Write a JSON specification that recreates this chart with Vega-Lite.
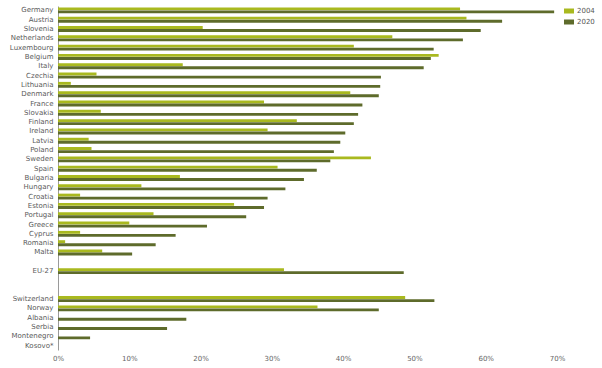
{
  "$schema": "https://vega.github.io/schema/vega-lite/v6.json",
  "autosize": {"type": "none"},
  "padding": {"left": 58, "top": 6, "right": 45, "bottom": 18},
  "width": 499,
  "height": 344,
  "background": "white",
  "data": {
    "values": [
      {"country": "Germany", "year": "2004", "value": 0.564},
      {"country": "Germany", "year": "2020", "value": 0.696},
      {"country": "Austria", "year": "2004", "value": 0.573},
      {"country": "Austria", "year": "2020", "value": 0.623},
      {"country": "Slovenia", "year": "2004", "value": 0.203},
      {"country": "Slovenia", "year": "2020", "value": 0.593},
      {"country": "Netherlands", "year": "2004", "value": 0.469},
      {"country": "Netherlands", "year": "2020", "value": 0.568},
      {"country": "Luxembourg", "year": "2004", "value": 0.415},
      {"country": "Luxembourg", "year": "2020", "value": 0.527},
      {"country": "Belgium", "year": "2004", "value": 0.534},
      {"country": "Belgium", "year": "2020", "value": 0.523},
      {"country": "Italy", "year": "2004", "value": 0.175},
      {"country": "Italy", "year": "2020", "value": 0.513},
      {"country": "Czechia", "year": "2004", "value": 0.054},
      {"country": "Czechia", "year": "2020", "value": 0.453},
      {"country": "Lithuania", "year": "2004", "value": 0.018},
      {"country": "Lithuania", "year": "2020", "value": 0.452},
      {"country": "Denmark", "year": "2004", "value": 0.410},
      {"country": "Denmark", "year": "2020", "value": 0.450},
      {"country": "France", "year": "2004", "value": 0.289},
      {"country": "France", "year": "2020", "value": 0.427},
      {"country": "Slovakia", "year": "2004", "value": 0.060},
      {"country": "Slovakia", "year": "2020", "value": 0.421},
      {"country": "Finland", "year": "2004", "value": 0.335},
      {"country": "Finland", "year": "2020", "value": 0.415},
      {"country": "Ireland", "year": "2004", "value": 0.294},
      {"country": "Ireland", "year": "2020", "value": 0.403},
      {"country": "Latvia", "year": "2004", "value": 0.043},
      {"country": "Latvia", "year": "2020", "value": 0.396},
      {"country": "Poland", "year": "2004", "value": 0.047},
      {"country": "Poland", "year": "2020", "value": 0.387},
      {"country": "Sweden", "year": "2004", "value": 0.439},
      {"country": "Sweden", "year": "2020", "value": 0.382},
      {"country": "Spain", "year": "2004", "value": 0.308},
      {"country": "Spain", "year": "2020", "value": 0.363},
      {"country": "Bulgaria", "year": "2004", "value": 0.171},
      {"country": "Bulgaria", "year": "2020", "value": 0.345},
      {"country": "Hungary", "year": "2004", "value": 0.117},
      {"country": "Hungary", "year": "2020", "value": 0.319},
      {"country": "Croatia", "year": "2004", "value": 0.031},
      {"country": "Croatia", "year": "2020", "value": 0.294},
      {"country": "Estonia", "year": "2004", "value": 0.247},
      {"country": "Estonia", "year": "2020", "value": 0.289},
      {"country": "Portugal", "year": "2004", "value": 0.134},
      {"country": "Portugal", "year": "2020", "value": 0.264},
      {"country": "Greece", "year": "2004", "value": 0.100},
      {"country": "Greece", "year": "2020", "value": 0.209},
      {"country": "Cyprus", "year": "2004", "value": 0.031},
      {"country": "Cyprus", "year": "2020", "value": 0.165},
      {"country": "Romania", "year": "2004", "value": 0.010},
      {"country": "Romania", "year": "2020", "value": 0.137},
      {"country": "Malta", "year": "2004", "value": 0.062},
      {"country": "Malta", "year": "2020", "value": 0.104},
      {"country": "EU-27", "year": "2004", "value": 0.317},
      {"country": "EU-27", "year": "2020", "value": 0.485},
      {"country": "Switzerland", "year": "2004", "value": 0.487},
      {"country": "Switzerland", "year": "2020", "value": 0.528},
      {"country": "Norway", "year": "2004", "value": 0.364},
      {"country": "Norway", "year": "2020", "value": 0.450},
      {"country": "Albania", "year": "2020", "value": 0.180},
      {"country": "Serbia", "year": "2020", "value": 0.153},
      {"country": "Montenegro", "year": "2020", "value": 0.045},
      {"country": "Kosovo*", "year": "2020", "value": 0}
    ]
  },
  "mark": {"type": "bar", "orient": "horizontal"},
  "encoding": {
    "y": {
      "field": "country",
      "type": "nominal",
      "scale": {
        "domain": ["Germany", "Austria", "Slovenia", "Netherlands", "Luxembourg", "Belgium", "Italy", "Czechia", "Lithuania", "Denmark", "France", "Slovakia", "Finland", "Ireland", "Latvia", "Poland", "Sweden", "Spain", "Bulgaria", "Hungary", "Croatia", "Estonia", "Portugal", "Greece", "Cyprus", "Romania", "Malta", "_gap1", "EU-27", "_gap2", "_gap3", "Switzerland", "Norway", "Albania", "Serbia", "Montenegro", "Kosovo*"],
        "paddingInner": 0.36,
        "paddingOuter": 0.15
      },
      "axis": {
        "title": null,
        "ticks": false,
        "grid": false,
        "domain": true,
        "domainColor": "#9a9a9a",
        "domainWidth": 1,
        "labelExpr": "indexof(datum.value, '_gap') == 0 ? '' : datum.value",
        "labelFont": "DejaVu Sans",
        "labelFontSize": 7,
        "labelColor": "#5a5a5a",
        "labelPadding": 5
      }
    },
    "yOffset": {"field": "year", "type": "nominal", "scale": {"domain": ["2004", "2020"], "paddingInner": 0.05}},
    "x": {
      "field": "value",
      "type": "quantitative",
      "scale": {"domain": [0, 0.7], "nice": false},
      "axis": {
        "title": null,
        "format": ".0%",
        "values": [0, 0.1, 0.2, 0.3, 0.4, 0.5, 0.6, 0.7],
        "grid": false,
        "domain": false,
        "ticks": false,
        "labelFlush": false,
        "labelFont": "DejaVu Sans",
        "labelFontSize": 7,
        "labelColor": "#666666",
        "labelPadding": 4
      }
    },
    "color": {
      "field": "year",
      "type": "nominal",
      "scale": {"domain": ["2004", "2020"], "range": ["#a9b91f", "#5e6b2b"]},
      "legend": {
        "title": null,
        "orient": "none",
        "legendX": 506,
        "legendY": 0,
        "symbolType": "M-1,-0.5H1V0.5H-1Z",
        "symbolSize": 100,
        "symbolStrokeWidth": 0,
        "labelFont": "DejaVu Sans",
        "labelFontSize": 7,
        "labelColor": "#555555",
        "rowPadding": 3,
        "labelOffset": 3
      }
    }
  },
  "config": {"view": {"stroke": null}}
}
